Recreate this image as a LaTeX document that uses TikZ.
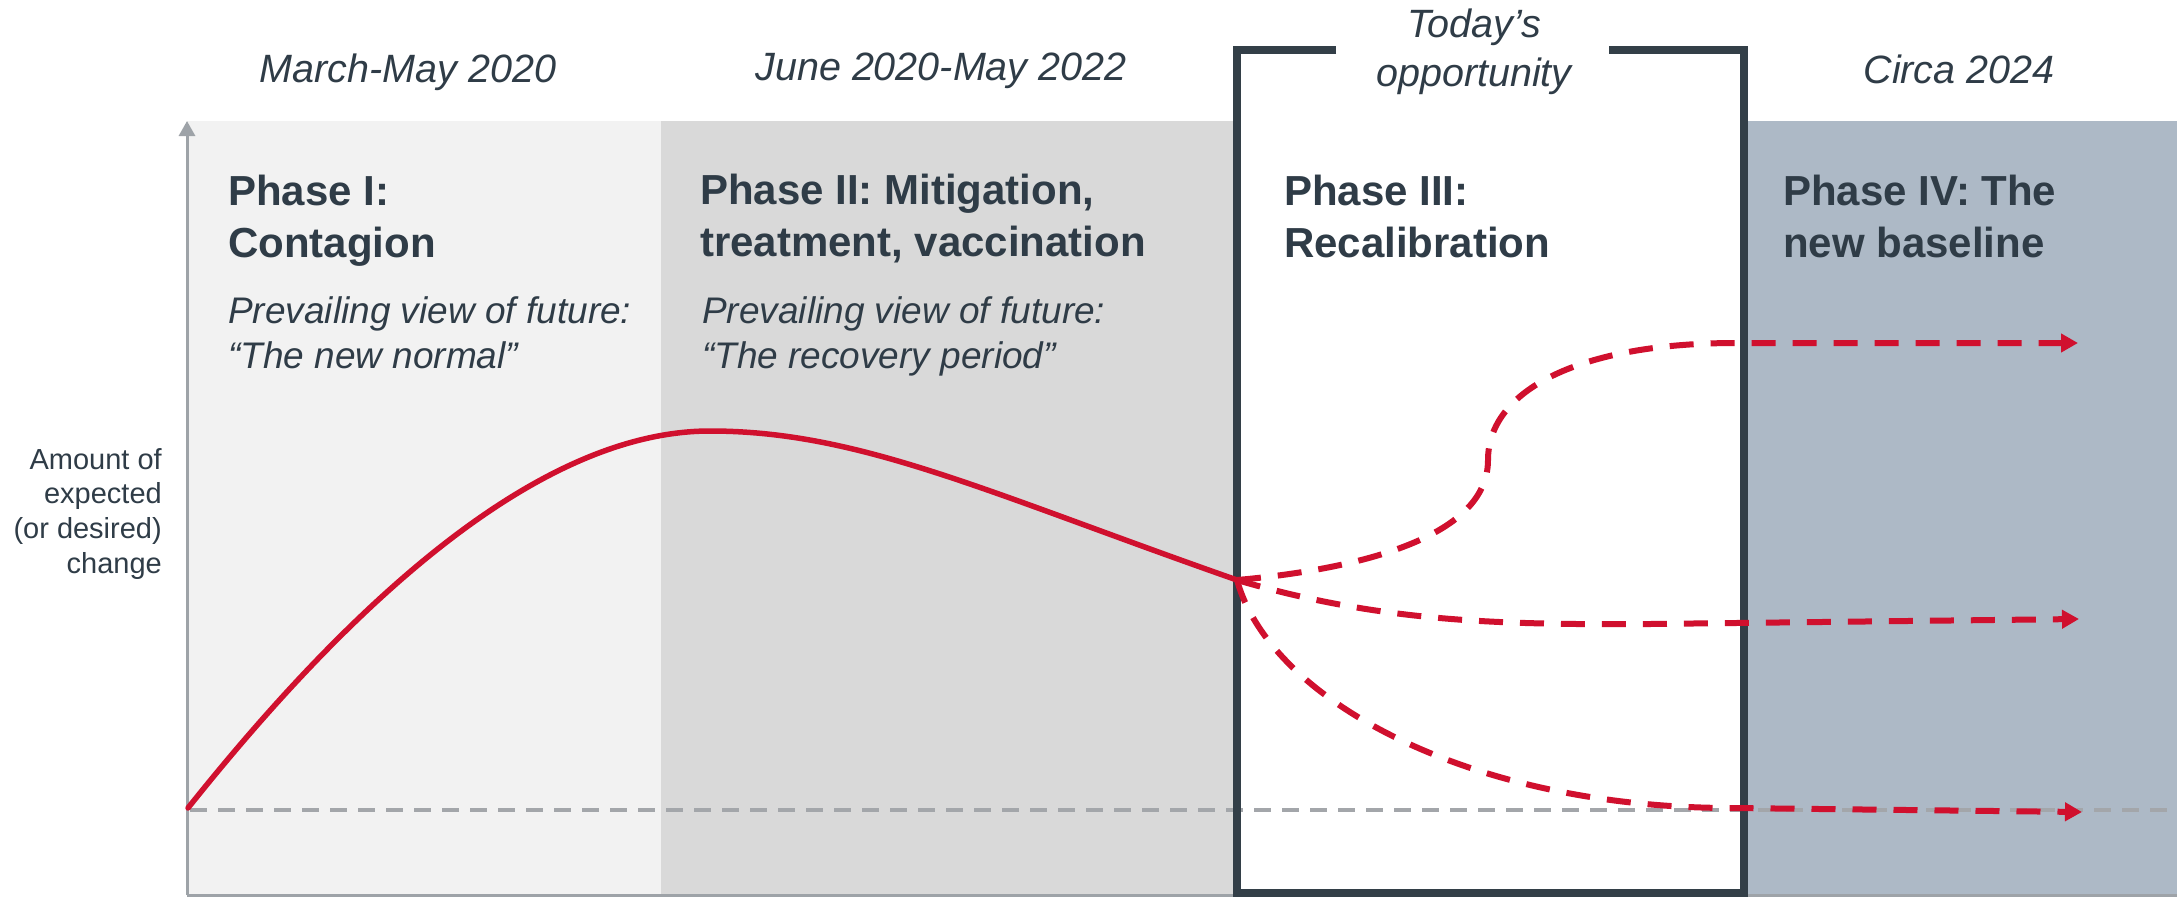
\documentclass[tikz,border=0pt]{standalone}
\usepackage{fontspec}
\setmainfont{Liberation Sans}
\usetikzlibrary{arrows.meta}
\definecolor{ink}{HTML}{2F3C47}
\definecolor{redc}{HTML}{D0102E}
\definecolor{bandone}{HTML}{F2F2F2}
\definecolor{bandtwo}{HTML}{D9D9D9}
\definecolor{bandfour}{HTML}{ADB9C6}
\definecolor{framec}{HTML}{333F48}
\definecolor{axisgray}{HTML}{9EA3A8}
\definecolor{basegray}{HTML}{A3A6AA}
\begin{document}
\begin{tikzpicture}[x=1pt,y=-1pt,
  datetxt/.style={anchor=base, inner sep=0pt, text=ink, font=\fontsize{39.5}{47}\selectfont\itshape},
  headtxt/.style={anchor=base west, inner sep=0pt, text=ink, font=\fontsize{42}{50}\selectfont\bfseries},
  subtxt/.style={anchor=base west, inner sep=0pt, text=ink, font=\fontsize{37}{44}\selectfont\itshape},
  axistxt/.style={anchor=base east, inner sep=0pt, text=ink, font=\fontsize{29}{35}\selectfont},
  redsolid/.style={draw=redc, line width=5.5pt, line cap=round},
  reddash/.style={draw=redc, line width=6pt, dash pattern=on 24pt off 17pt, -{Triangle[length=17pt,width=18pt]}},
  axisline/.style={draw=axisgray, line width=3pt},
  baseline/.style={draw=basegray, line width=4pt, dash pattern=on 17pt off 11pt},
  framebox/.style={draw=framec, line width=8pt}
]
\useasboundingbox (0,0) rectangle (2177,900);
% bands
\fill[bandone] (187,121) rectangle (661,895);
\fill[bandtwo] (661,121) rectangle (1237,895);
\fill[bandfour] (1744,121) rectangle (2177,895);
\fill[white] (1237,50) rectangle (1744,893);
% baseline
\coordinate (b0) at (190,810);
\coordinate (b1) at (2177,810);
\draw[baseline] (b0) -- (b1);
% axes
\coordinate (origin) at (187,895);
\coordinate (ytop) at (187,121);
\coordinate (xend) at (2177,895);
\draw[axisline, -{Triangle[length=15pt,width=16pt]}] (origin) -- (ytop);
\draw[axisline] (origin) -- (xend);
% Phase III frame
\coordinate (f1) at (1336,50);
\coordinate (f2) at (1237,50);
\coordinate (f3) at (1237,893);
\coordinate (f4) at (1744,893);
\coordinate (f5) at (1744,50);
\coordinate (f6) at (1609,50);
\draw[framebox] (f1) -- (f2) -- (f3) -- (f4) -- (f5) -- (f6);
% curves
\coordinate (start) at (188,808);
\coordinate (peak) at (710,431);
\coordinate (today) at (1237,580);
\coordinate (upEnd) at (2078,343);
\coordinate (midEnd) at (2079,619);
\coordinate (lowEnd) at (2082,812);
\draw[redsolid] (start) .. controls (338,620) and (530,431) .. (peak)
  .. controls (860,431) and (987,492.5) .. (today);
\draw[reddash] (today) .. controls (1350,570) and (1488,540) .. (1488,460)
  .. controls (1488,390) and (1580,343) .. (1736,343) -- (upEnd);
\draw[reddash] (today) .. controls (1380,622) and (1500,625) .. (1650,624) -- (midEnd);
\draw[reddash] (today) .. controls (1270,700) and (1470,808) .. (1732,808) -- (lowEnd);
% dates
\node[datetxt] (d1) at (408,82) {March-May 2020};
\node[datetxt] (d2) at (941,80) {June 2020-May 2022};
\node[datetxt] (d3a) at (1474,37) {Today’s};
\node[datetxt] (d3b) at (1474,86) {opportunity};
\node[datetxt] (d4) at (1959,83) {Circa 2024};
% headers
\node[headtxt] (h1a) at (228,205) {Phase I:};
\node[headtxt] (h1b) at (228,257) {Contagion};
\node[headtxt] (h2a) at (700,204) {Phase II: Mitigation,};
\node[headtxt] (h2b) at (700,256) {treatment, vaccination};
\node[headtxt] (h3a) at (1284,205) {Phase III:};
\node[headtxt] (h3b) at (1284,257) {Recalibration};
\node[headtxt] (h4a) at (1783,205) {Phase IV: The};
\node[headtxt] (h4b) at (1783,257) {new baseline};
% subtitles
\node[subtxt] (s1a) at (228,323) {Prevailing view of future:};
\node[subtxt] (s1b) at (228,368) {“The new normal”};
\node[subtxt] (s2a) at (702,323) {Prevailing view of future:};
\node[subtxt] (s2b) at (702,368) {“The recovery period”};
% axis label
\node[axistxt] (y1) at (162,469) {Amount of};
\node[axistxt] (y2) at (162,503) {expected};
\node[axistxt] (y3) at (162,538) {(or desired)};
\node[axistxt] (y4) at (162,573) {change};
\end{tikzpicture}
\end{document}
